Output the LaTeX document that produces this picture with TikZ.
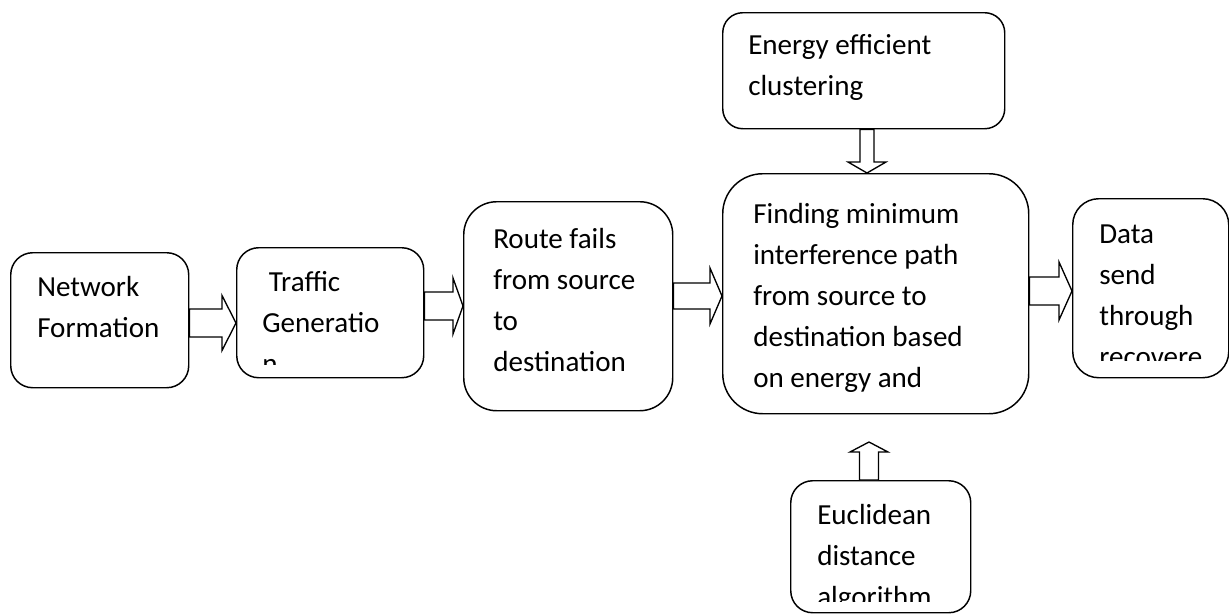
\documentclass[tikz,border=0pt]{standalone}
\usepackage{fontspec}
\setmainfont{Carlito}
\usetikzlibrary{calc}
\newcommand\hblock[6]{% from, to, y centre, shaft half, head half, head length
\draw[barrow] (#1.east |- 0,#3-#4) -- ($(#2.west |- 0,#3-#4)+(-#6,0)$) -- ($(#2.west |- 0,#3-#5)+(-#6,0)$) -- (#2.west |- 0,#3) -- ($(#2.west |- 0,#3+#5)+(-#6,0)$) -- ($(#2.west |- 0,#3+#4)+(-#6,0)$) -- (#1.east |- 0,#3+#4) -- cycle;}
\newcommand\vblock[6]{% from, to, x centre, shaft half, head half, signed head length
\draw[barrow] (#1 -| #3-#4,0) -- ($(#2 -| #3-#4,0)+(0,#6)$) -- ($(#2 -| #3-#5,0)+(0,#6)$) -- (#2 -| #3,0) -- ($(#2 -| #3+#5,0)+(0,#6)$) -- ($(#2 -| #3+#4,0)+(0,#6)$) -- (#1 -| #3+#4,0) -- cycle;}
\begin{document}
\begin{tikzpicture}[x=0.75pt,y=-0.75pt,
  pbox/.style n args={3}{draw, line width=1.1pt, anchor=north west, inner sep=0pt,
    minimum width=#1*0.75pt, minimum height=#2*0.75pt, rounded corners=#3*0.75pt},
  txt/.style={anchor=base west, inner sep=0pt, font=\fontsize{21.8}{30.75}\selectfont},
  barrow/.style={draw, line width=1pt, fill=white, line join=miter}]
\useasboundingbox (0,0) rectangle (1229,614);

% boxes
\node[pbox={178}{135}{22}] (net) at (10,252) {};
\node[pbox={187}{130}{22}] (traf) at (236,247) {};
\node[pbox={209}{209}{33}] (route) at (463,201) {};
\node[pbox={306}{240}{40}] (fin) at (722,173) {};
\node[pbox={156}{179}{26}] (data) at (1072,198) {};
\node[pbox={282}{116}{20}] (ener) at (722,12) {};
\node[pbox={180}{132}{22}] (eucl) at (790,480) {};

% texts
\node[txt] (nett) at (37,296) {\begin{tabular}[t]{@{}l@{}}Network\\Formation\end{tabular}};
\begin{scope}
\clip (236,247) rectangle (423,364);
\node[txt] (traft) at (262,291) {\begin{tabular}[t]{@{}l@{}}\ Traffic\\Generatio\\n\end{tabular}};
\end{scope}
\node[txt] (routet) at (493,248) {\begin{tabular}[t]{@{}l@{}}Route fails\\from source\\to\\destination\end{tabular}};
\node[txt] (fint) at (753,223) {\begin{tabular}[t]{@{}l@{}}Finding minimum\\interference path\\from source to\\destination based\\on energy and\end{tabular}};
\begin{scope}
\clip (1072,198) rectangle (1228,360);
\node[txt] (datat) at (1099,243) {\begin{tabular}[t]{@{}l@{}}Data\\send\\through\\recovere\end{tabular}};
\end{scope}
\node[txt] (enert) at (748,55) {\begin{tabular}[t]{@{}l@{}}Energy efficient\\clustering\end{tabular}};
\begin{scope}
\clip (790,480) rectangle (970,601);
\node[txt] (euclt) at (817,524) {\begin{tabular}[t]{@{}l@{}}Euclidean\\distance\\algorithm\end{tabular}};
\end{scope}

% block arrows
\hblock{net}{traf}{323}{14}{27.5}{14}
\hblock{traf}{route}{306}{14}{28}{10}
\hblock{route}{fin}{296}{13}{28}{12}
\hblock{fin}{data}{291}{14}{29}{13}
\coordinate (euTip) at (869,442);
\vblock{ener.south}{fin.north}{867}{7}{19}{-11}
\vblock{eucl.north}{euTip}{869}{9.5}{19}{10}
\end{tikzpicture}
\end{document}
